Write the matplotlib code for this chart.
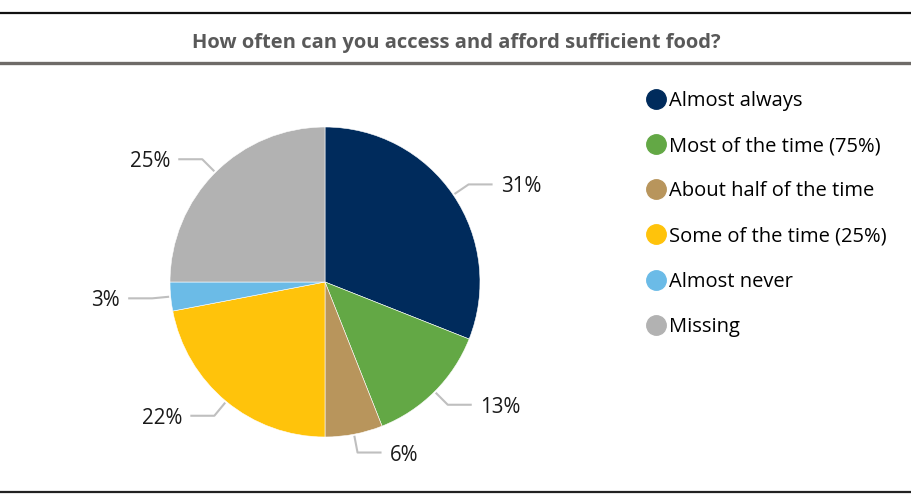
import numpy as np
import matplotlib.pyplot as plt
from matplotlib.lines import Line2D

plt.rcParams["font.family"] = ["Open Sans", "DejaVu Sans"]

title = "How often can you access and afford sufficient food?"
categories = ["Almost always", "Most of the time (75%)", "About half of the time",
              "Some of the time (25%)", "Almost never", "Missing"]
values = [31, 13, 6, 22, 3, 25]
colors = ["#002B5C", "#63A845", "#B8955C", "#FFC30B", "#6BBBE7", "#B2B2B2"]

W, H = 912, 496
fig = plt.figure(figsize=(W / 100, H / 100), dpi=100)
ax = fig.add_axes([0, 0, 1, 1])

# pie in pixel-like coordinates (y up)
cx, cy, r = 325, H - 282, 155
wedges, _ = ax.pie(values, colors=colors, startangle=90, counterclock=False,
                   center=(cx, cy), radius=r,
                   wedgeprops=dict(edgecolor="white", linewidth=0.4))
ax.set_xlim(0, W)
ax.set_ylim(0, H)
ax.set_aspect("equal")
ax.axis("off")

# leader lines + labels
for w, v in zip(wedges, values):
    th = np.deg2rad((w.theta1 + w.theta2) / 2)
    c, s = np.cos(th), np.sin(th)
    p0 = (cx + 1.01 * r * c, cy + 1.01 * r * s)
    p1 = (cx + 1.12 * r * c, cy + 1.12 * r * s)
    d = 1 if c >= 0 else -1
    p2 = (p1[0] + d * 24, p1[1])
    ax.plot([p0[0], p1[0], p2[0]], [p0[1], p1[1], p2[1]], color="#BFBFBF", lw=1.5,
            solid_capstyle="butt")
    ax.text(p2[0] + d * 8, p2[1] - 2.5, f"{v}%", ha="left" if d > 0 else "right",
            va="center", fontsize=14.8, color="#1a1a1a")

# title and rules
ax.text(W / 2, H - 43, title, ha="center", va="center", fontsize=14.5,
        fontweight="bold", color="#595959")
ax.plot([0, W], [H - 12.5, H - 12.5], color="#111111", lw=1.6)
ax.plot([0, W], [H - 63, H - 63], color="#6e6b68", lw=2.4)
ax.plot([0, W], [H - 492, H - 492], color="#222222", lw=1.6)

handles = [Line2D([], [], marker="o", linestyle="", markersize=14,
                  markerfacecolor=col, markeredgecolor=col) for col in colors]
fig.legend(handles, categories, loc="upper left", bbox_to_anchor=(645 / W, 1 - 91 / H),
           frameon=False, fontsize=14.5, handletextpad=0.1, handlelength=1.1,
           labelspacing=1.25, borderaxespad=0, borderpad=0)

fig.savefig("out.png", dpi=100)
